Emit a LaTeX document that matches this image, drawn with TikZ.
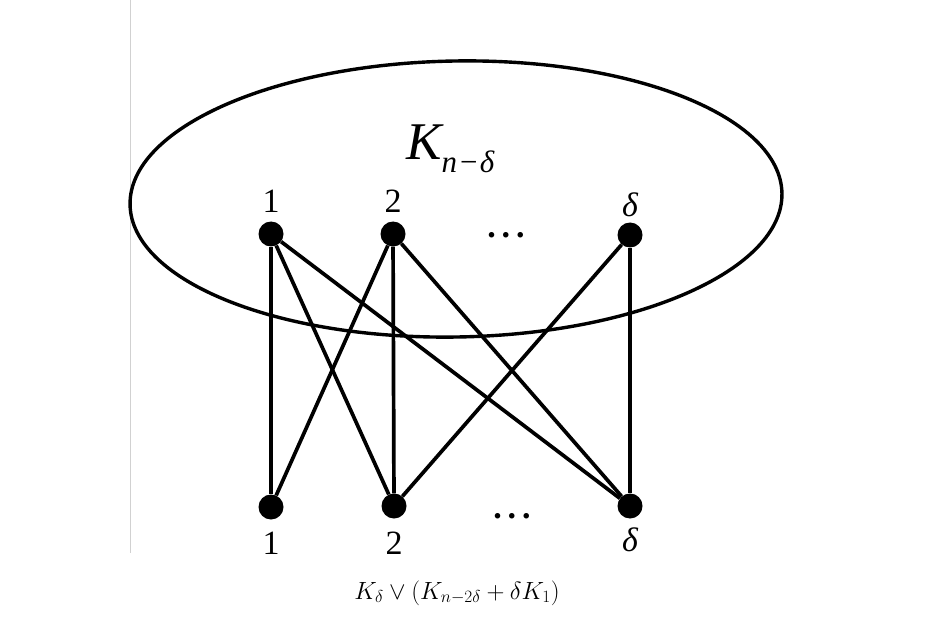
\documentclass[tikz,border=0pt]{standalone}
\usepackage{fontspec}
\setmainfont{Liberation Serif}
\newfontfamily\tmsfont{Liberation Serif}
\begin{document}
\begin{tikzpicture}[x=1pt,y=-1pt,
  vtx/.style={circle,fill=black,inner sep=0pt,minimum size=25pt},
  lbl/.style={inner sep=0pt,font=\tmsfont\fontsize{34}{34}\selectfont},
  edge/.style={line width=3.7pt},
  dotsl/.style={inner sep=0pt,font=\tmsfont\bfseries\fontsize{34}{34}\selectfont}]
\useasboundingbox (0,0) rectangle (939,644);
\draw[line width=0.8pt,black!18] (130,0) -- (130,553);
\draw[line width=3.4pt] (456,199) ellipse [x radius=326, y radius=138, rotate=1];
% top vertices
\node[vtx] (t1) at (271,234) {};
\node[vtx] (t2) at (393,234) {};
\node[vtx] (td) at (630,235) {};
% bottom vertices
\node[vtx] (b1) at (271,507) {};
\node[vtx] (b2) at (394,506) {};
\node[vtx] (bd) at (630,506) {};
% labels
\node[lbl] (lt1) at (271,201) {1};
\node[lbl] (lt2) at (393,201) {2};
\node[lbl] (ltd) at (630,205) {\itshape δ};
\node[lbl] (lb1) at (271,543) {1};
\node[lbl] (lb2) at (394,543) {2};
\node[lbl] (lbd) at (630,540) {\itshape δ};
\node[dotsl,anchor=base] (dt) at (506,238) {.\kern6pt.\kern6pt.};
\node[dotsl,anchor=base] (db) at (512,518) {.\kern6pt.\kern6pt.};
% K_{n-delta}
\node[inner sep=0pt,anchor=base west,font=\tmsfont] (K) at (406,160)
  {{\fontsize{53}{53}\selectfont\itshape K}\raisebox{-13pt}{\fontsize{31}{31}\selectfont\itshape n\kern1pt−\kern1ptδ}};
% edges
\draw[edge] (t1) -- (b1);
\draw[edge] (t1) -- (b2);
\draw[edge] (t1) -- (bd);
\draw[edge] (t2) -- (b1);
\draw[edge] (t2) -- (b2);
\draw[edge] (t2) -- (bd);
\draw[edge] (td) -- (b2);
\draw[edge] (td) -- (bd);
% caption
\node[inner sep=0pt,font=\fontsize{24}{24}\selectfont] (cap) at (457,593)
  {$K_\delta \vee (K_{n-2\delta}+\delta K_1)$};
\end{tikzpicture}
\end{document}
